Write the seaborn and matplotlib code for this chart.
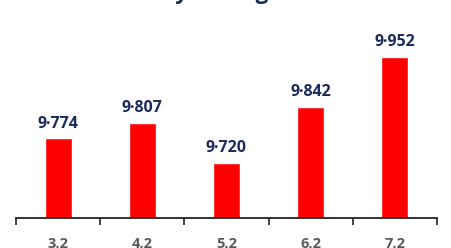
import seaborn as sns
import matplotlib.pyplot as plt
import pandas as pd

categories = ['3.2', '4.2', '5.2', '6.2', '7.2']
values = [9.774, 9.807, 9.720, 9.842, 9.952]
value_labels = ['9·774', '9·807', '9·720', '9·842', '9·952']

NAVY = '#1B2A5C'
RED = '#FF0000'


def create_graphic():
    sns.set_style('white')
    plt.rcParams['font.family'] = ['Open Sans', 'DejaVu Sans']
    df = pd.DataFrame({'cat': categories, 'val': values})

    fig = plt.figure(figsize=(4.52, 2.48), dpi=100)
    ax = fig.add_axes([16 / 452, 30 / 248, 421 / 452, 218 / 248])
    sns.barplot(data=df, x='cat', y='val', color=RED, saturation=1, width=0.32, ax=ax)

    ax.set_ylim(9.6, 9.6 + 218 / 457)
    ax.set_xlim(-0.5, 4.5)
    for s in ['top', 'right', 'left']:
        ax.spines[s].set_visible(False)
    ax.spines['bottom'].set_color('#222222')
    ax.spines['bottom'].set_linewidth(1.3)
    ax.set_yticks([])
    ax.set_xlabel('')
    ax.set_ylabel('')
    ax.set_xticks(range(len(categories)))
    ax.set_xticklabels(categories, color='#595959', fontsize=10.5, fontweight='bold')
    ax.tick_params(axis='x', which='major', bottom=True, length=0, pad=14)
    ax.set_xticks([i - 0.5 for i in range(len(categories) + 1)], minor=True)
    ax.tick_params(axis='x', which='minor', bottom=True, length=5, width=1.2,
                   color='#222222', direction='out')

    for p, lbl in zip(ax.patches, value_labels):
        ax.annotate(lbl, (p.get_x() + p.get_width() / 2., p.get_height()),
                    ha='center', va='bottom', xytext=(0, 5), textcoords='offset points',
                    color=NAVY, fontsize=11.5, fontweight='bold')

    fig.text(0.43, 1.0 + 1 / 248, 'Weekly average', ha='center', va='baseline',
             color=NAVY, fontsize=16, fontweight='bold')

    fig.savefig('out.png', dpi=100)


if __name__ == '__main__':
    create_graphic()
